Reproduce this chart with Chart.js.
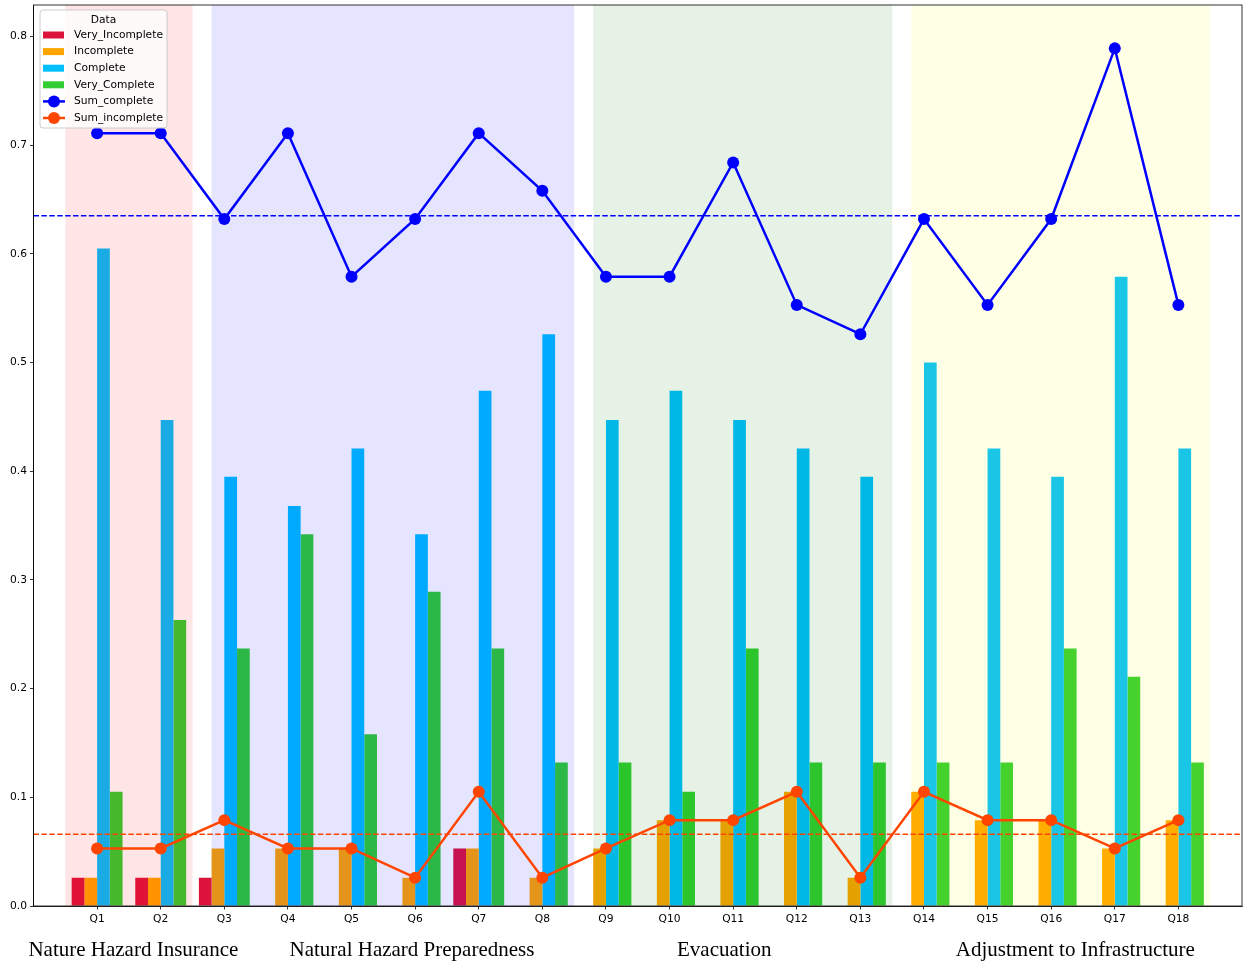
<!DOCTYPE html>
<html>
<head>
<meta charset="utf-8">
<script src="https://cdn.jsdelivr.net/npm/chart.js@4.4.1/dist/chart.umd.min.js"></script>
<style>
  html, body { margin: 0; padding: 0; background: #fff; }
  #wrap { width: 1244px; height: 963px; }
</style>
</head>
<body>
<div id="wrap"><canvas id="chart0" width="1244" height="963"></canvas></div>
<script>
// values (share of answers per question)
const questions = ["Q1", "Q2", "Q3", "Q4", "Q5", "Q6", "Q7", "Q8", "Q9",
    "Q10", "Q11", "Q12", "Q13", "Q14", "Q15", "Q16", "Q17", "Q18"];
const veryIncomplete = [0.026, 0.026, 0.026, 0, 0, 0, 0.053, 0, 0,
    0, 0, 0, 0, 0, 0, 0, 0, 0];
const incomplete = [0.026, 0.026, 0.053, 0.053, 0.053, 0.026, 0.053, 0.026, 0.053,
    0.079, 0.079, 0.105, 0.026, 0.105, 0.079, 0.079, 0.053, 0.079];
const complete = [0.605, 0.447, 0.395, 0.368, 0.421, 0.342, 0.474, 0.526, 0.447,
    0.474, 0.447, 0.421, 0.395, 0.500, 0.421, 0.395, 0.579, 0.421];
const veryComplete = [0.105, 0.263, 0.237, 0.342, 0.158, 0.289, 0.237, 0.132, 0.132,
    0.105, 0.237, 0.132, 0.132, 0.132, 0.132, 0.237, 0.211, 0.132];
const sumComplete = [0.711, 0.711, 0.632, 0.711, 0.579, 0.632, 0.711, 0.658, 0.579,
    0.579, 0.684, 0.553, 0.526, 0.632, 0.553, 0.632, 0.789, 0.553];
const sumIncomplete = [0.053, 0.053, 0.079, 0.053, 0.053, 0.026, 0.105, 0.026, 0.053,
    0.079, 0.079, 0.105, 0.026, 0.105, 0.079, 0.079, 0.053, 0.079];
const meanComplete = 0.635;
const meanIncomplete = 0.066;
const groupNames = ["Nature Hazard Insurance", "Natural Hazard Preparedness",
    "Evacuation", "Adjustment to Infrastructure"];

// shaded spans (x in question units) and where the group names sit
const spans = [
    { from: -0.5, to: 1.5, color: "rgba(255, 0, 0, 0.1)" },
    { from: 1.8, to: 7.5, color: "rgba(0, 0, 255, 0.1)" },
    { from: 7.8, to: 12.5, color: "rgba(0, 128, 0, 0.1)" },
    { from: 12.8, to: 17.5, color: "rgba(255, 255, 0, 0.1)" },
];
const groupLabelX = [0.57, 4.95, 9.86, 15.38];

const colors = {
    veryIncomplete: "#dc143c",
    incomplete: "#ffa500",
    complete: "#00bfff",
    veryComplete: "#32cd32",
    sumComplete: "#0000ff",
    sumIncomplete: "#ff4500",
};

function points(values) {
    return values.map((v, i) => ({ x: i, y: v }));
}

function barSet(label, values, color) {
    return {
        label: label,
        data: points(values),
        backgroundColor: color,
        borderWidth: 0,
        categoryPercentage: 0.8,
        barPercentage: 1.0,
        order: 2,
    };
}

function lineSet(label, values, color) {
    return {
        type: "line",
        label: label,
        data: points(values),
        borderColor: color,
        backgroundColor: color,
        borderWidth: 2.5,
        pointRadius: 6,
        pointHoverRadius: 6,
        pointBorderWidth: 0,
        pointBackgroundColor: color,
        tension: 0,
        order: 1,
    };
}

// spans + mean lines go over the bars but under the two sum lines
const overlayPlugin = {
    id: "overlay",
    afterDatasetDraw(chart, args) {
        if (args.index !== 0) return;
        const { ctx, chartArea } = chart;
        const x = chart.scales.x;
        const y = chart.scales.y;
        ctx.save();
        spans.forEach(s => {
            const x0 = x.getPixelForValue(s.from);
            const x1 = x.getPixelForValue(s.to);
            ctx.fillStyle = s.color;
            ctx.fillRect(x0, chartArea.top, x1 - x0, chartArea.bottom - chartArea.top);
        });
        ctx.lineWidth = 1.5;
        ctx.setLineDash([5.5, 2.4]);
        [[meanComplete, colors.sumComplete], [meanIncomplete, colors.sumIncomplete]].forEach(([v, c]) => {
            const py = y.getPixelForValue(v);
            ctx.strokeStyle = c;
            ctx.beginPath();
            ctx.moveTo(chartArea.left, py);
            ctx.lineTo(chartArea.right, py);
            ctx.stroke();
        });
        ctx.restore();
    },
    afterDraw(chart) {
        const { ctx, chartArea } = chart;
        const x = chart.scales.x;
        ctx.save();
        // frame
        ctx.strokeStyle = "#000";
        ctx.lineWidth = 0.8;
        ctx.strokeRect(chartArea.left, chartArea.top,
            chartArea.right - chartArea.left, chartArea.bottom - chartArea.top);

        // legend
        const lx = chartArea.left + 6.5;
        const ly = chartArea.top + 5;
        const lw = 127;
        const lh = 118;
        ctx.fillStyle = "rgba(255, 255, 255, 0.8)";
        ctx.strokeStyle = "#cccccc";
        ctx.lineWidth = 1;
        ctx.beginPath();
        ctx.roundRect(lx, ly, lw, lh, 3);
        ctx.fill();
        ctx.stroke();
        ctx.font = "10.7px 'DejaVu Sans'";
        ctx.fillStyle = "#000";
        ctx.textBaseline = "middle";
        ctx.textAlign = "center";
        ctx.fillText("Data", lx + lw / 2, ly + 10);
        ctx.textAlign = "left";
        const items = chart.data.datasets;
        items.forEach((ds, i) => {
            const ry = ly + 25 + i * 16.6;
            const hx = lx + 3;
            if (ds.type === "line") {
                ctx.strokeStyle = ds.borderColor;
                ctx.lineWidth = 2.5;
                ctx.beginPath();
                ctx.moveTo(hx, ry);
                ctx.lineTo(hx + 22, ry);
                ctx.stroke();
                ctx.fillStyle = ds.borderColor;
                ctx.beginPath();
                ctx.arc(hx + 11, ry, 6, 0, Math.PI * 2);
                ctx.fill();
            } else {
                ctx.fillStyle = ds.backgroundColor;
                ctx.fillRect(hx, ry - 3.5, 21, 7);
            }
            ctx.fillStyle = "#000";
            ctx.fillText(ds.label, lx + 34, ry);
        });

        // group names under the axis
        ctx.font = "21px 'Liberation Serif'";
        ctx.textAlign = "center";
        ctx.textBaseline = "alphabetic";
        groupNames.forEach((name, i) => {
            ctx.fillText(name, x.getPixelForValue(groupLabelX[i]), 956);
        });
        ctx.restore();
    },
};

Chart.defaults.font.family = "'DejaVu Sans'";
Chart.defaults.font.size = 10.7;
Chart.defaults.color = "#000";

const ctx = document.getElementById("chart0").getContext("2d");
window.chart = new Chart(ctx, {
    type: "bar",
    data: {
        datasets: [
            barSet("Very_Incomplete", veryIncomplete, colors.veryIncomplete),
            barSet("Incomplete", incomplete, colors.incomplete),
            barSet("Complete", complete, colors.complete),
            barSet("Very_Complete", veryComplete, colors.veryComplete),
            lineSet("Sum_complete", sumComplete, colors.sumComplete),
            lineSet("Sum_incomplete", sumIncomplete, colors.sumIncomplete),
        ],
    },
    options: {
        responsive: false,
        animation: false,
        layout: { autoPadding: false, padding: { top: 5, right: 2, left: 0, bottom: 0 } },
        scales: {
            x: {
                type: "linear",
                min: -1,
                max: 18,
                offset: false,
                afterFit: s => {
                    s.height = 57;
                    s.paddingLeft = 0;
                    s.paddingRight = 0;
                },
                afterBuildTicks: s => { s.ticks = questions.map((q, i) => ({ value: i })); },
                ticks: {
                    autoSkip: false,
                    maxRotation: 0,
                    padding: 3,
                    callback: v => questions[v],
                },
                grid: {
                    offset: false,
                    drawOnChartArea: false,
                    tickLength: 3.5,
                    color: "#000",
                    lineWidth: 0.8,
                },
                border: { color: "#000", width: 0.8 },
            },
            y: {
                min: 0,
                max: 0.8289,
                afterFit: s => {
                    s.width = 33.5;
                    s.paddingTop = 0;
                    s.paddingBottom = 0;
                },
                ticks: {
                    stepSize: 0.1,
                    includeBounds: false,
                    padding: 3,
                    callback: v => v.toFixed(1),
                },
                grid: {
                    drawOnChartArea: false,
                    tickLength: 3.5,
                    color: "#000",
                    lineWidth: 0.8,
                },
                border: { color: "#000", width: 0.8 },
            },
        },
        plugins: {
            legend: { display: false },
            tooltip: { enabled: false },
        },
    },
    plugins: [overlayPlugin],
});
</script>
</body>
</html>
